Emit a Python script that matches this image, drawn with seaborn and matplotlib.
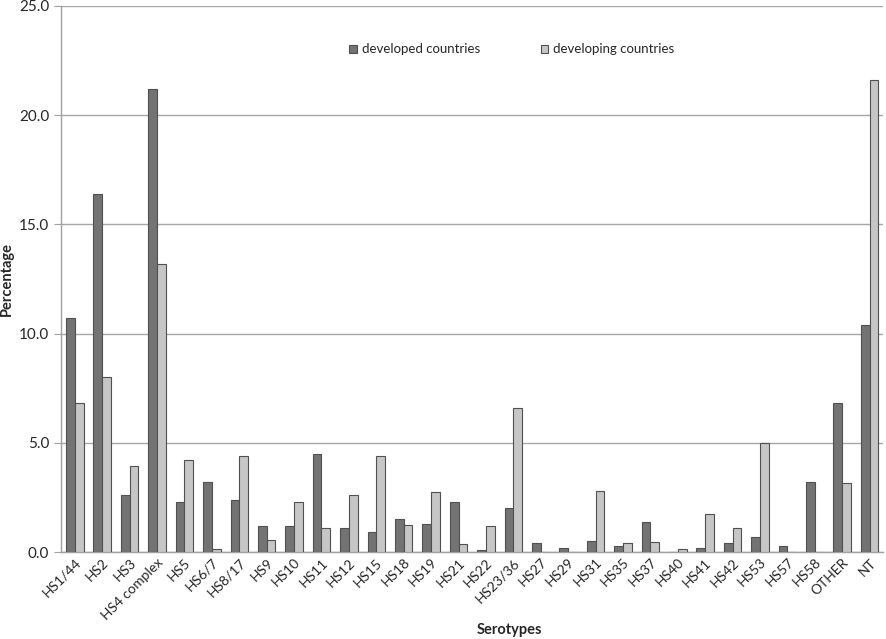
import pandas as pd
import matplotlib
matplotlib.use("Agg")
import matplotlib.pyplot as plt
import seaborn as sns

serotypes = ["HS1/44", "HS2", "HS3", "HS4 complex", "HS5", "HS6/7", "HS8/17", "HS9",
             "HS10", "HS11", "HS12", "HS15", "HS18", "HS19", "HS21", "HS22", "HS23/36",
             "HS27", "HS29", "HS31", "HS35", "HS37", "HS40", "HS41", "HS42", "HS53",
             "HS57", "HS58", "OTHER", "NT"]
developed = [10.7, 16.4, 2.6, 21.2, 2.3, 3.2, 2.4, 1.2,
             1.2, 4.5, 1.1, 0.9, 1.5, 1.3, 2.3, 0.1, 2.0,
             0.4, 0.2, 0.5, 0.3, 1.4, 0.0, 0.2, 0.4, 0.7,
             0.3, 3.2, 6.8, 10.4]
developing = [6.8, 8.0, 3.95, 13.2, 4.2, 0.15, 4.4, 0.55,
              2.3, 1.1, 2.6, 4.4, 1.25, 2.75, 0.35, 1.2, 6.6,
              0.0, 0.0, 2.8, 0.4, 0.45, 0.15, 1.75, 1.1, 5.0,
              0.0, 0.0, 3.15, 21.6]
groups = ["developed countries", "developing countries"]

df = pd.DataFrame({
    "Serotypes": serotypes * 2,
    "Percentage": developed + developing,
    "group": [groups[0]] * len(serotypes) + [groups[1]] * len(serotypes),
})

sns.set_style("white")
plt.rcParams["font.family"] = ["Lato", "DejaVu Sans"]

fig = plt.figure(figsize=(8.86, 6.39), dpi=100)
ax = fig.add_axes([0.069, 0.136, 0.928, 0.855])

sns.barplot(data=df, x="Serotypes", y="Percentage", hue="group",
            palette=["#737373", "#c6c6c6"], width=0.64, ax=ax,
            edgecolor="#505050", linewidth=0.8, saturation=1, zorder=3)

ax.set_ylim(0, 25)
ax.set_yticks([0, 5, 10, 15, 20, 25])
ax.set_yticklabels([f"{v:.1f}" for v in [0, 5, 10, 15, 20, 25]], fontsize=11)
ax.set_xlim(-0.5, len(serotypes) - 0.5)
ax.grid(axis="y", color="#a6a6a6", linewidth=1, zorder=0)
ax.set_axisbelow(True)

for s in ["top", "right"]:
    ax.spines[s].set_visible(False)
for s in ["left", "bottom"]:
    ax.spines[s].set_color("#a0a0a0")
    ax.spines[s].set_linewidth(1)

ax.tick_params(axis="y", direction="out", length=5, color="#a0a0a0", left=True)
ax.tick_params(axis="x", length=0, pad=3)
plt.setp(ax.get_xticklabels(), rotation=45, ha="right", rotation_mode="anchor", fontsize=10)

ax.set_xlabel("Serotypes", fontsize=10.5, fontweight="bold")
ax.xaxis.set_label_coords(0.545, -0.13)
ax.set_ylabel("Percentage", fontsize=10.5, fontweight="bold")

handles, labels = ax.get_legend_handles_labels()
ax.legend(handles, labels, loc="center", bbox_to_anchor=(0.548, 0.92), ncol=2,
          frameon=False, fontsize=9.5, handlelength=0.6, handleheight=0.6,
          handletextpad=0.35, columnspacing=4.6)

fig.savefig("out.png", dpi=100)
